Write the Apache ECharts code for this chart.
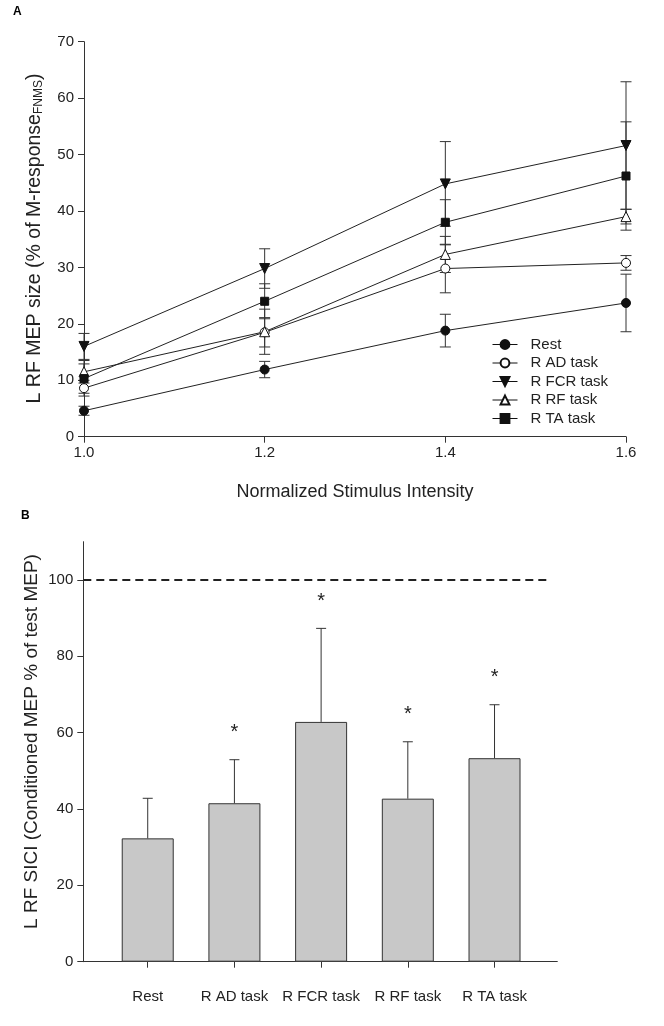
<!DOCTYPE html>
<html><head><meta charset="utf-8">
<script src="https://cdn.jsdelivr.net/npm/echarts@6/dist/echarts.min.js"></script>
<style>html,body{margin:0;padding:0;background:#fff}#c{width:664px;height:1026px}</style>
</head><body><div id="c"></div>
<script>
// ---------- Panel A data ----------
const intensity = [1.0, 1.2, 1.4, 1.6];
const restMean = [4.6, 11.9, 18.8, 23.7];
const restErr  = [0.8, 1.45, 2.9, 5.1];
const adMean   = [8.6, 18.5, 29.8, 30.8];
const adErr    = [1.4, 2.6, 4.3, 1.3];
const fcrMean  = [16.0, 29.8, 44.8, 51.6];
const fcrErr   = [2.3, 3.5, 7.5, 11.3];
const rfMean   = [11.5, 18.6, 32.3, 39.0];
const rfErr    = [2.0, 4.0, 3.2, 1.3];
const taMean   = [10.3, 24.0, 38.0, 46.2];
const taErr    = [2.6, 3.1, 4.0, 9.6];
const seriesNames = ['Rest', 'R AD task', 'R FCR task', 'R RF task', 'R TA task'];

// ---------- Panel B data ----------
const siciCats = ['Rest', 'R AD task', 'R FCR task', 'R RF task', 'R TA task'];
const siciMean = [32.3, 41.5, 62.8, 42.7, 53.3];
const siciErr  = [10.5, 11.4, 24.5, 14.9, 14.0];
const siciSig  = [false, true, true, true, true];
const siciYTicks = [0, 20, 40, 60, 80, 100];
const refLevel = 100;

const FONT = 'Liberation Sans, Arial, sans-serif';
const INK = '#222';
const AX = '#333';

const groups = [
  {mean: restMean, err: restErr, symbol: 'circle', size: 9, fill: '#111'},
  {mean: adMean, err: adErr, symbol: 'circle', size: 9, fill: '#fff'},
  {mean: fcrMean, err: fcrErr, symbol: 'path://M0,0L10,0L5,9Z', size: 10, fill: '#111'},
  {mean: rfMean, err: rfErr, symbol: 'triangle', size: 10, fill: '#fff'},
  {mean: taMean, err: taErr, symbol: 'rect', size: 8, fill: '#111'}
];

function errRenderA(params, api) {
  const x = api.value(0), y = api.value(1), e = api.value(2);
  const p = api.coord([x, y + e]), q = api.coord([x, y - e]);
  const w = 5.5;
  const st = {stroke: AX, lineWidth: 1};
  return {type: 'group', children: [
    {type: 'line', shape: {x1: p[0], y1: p[1], x2: q[0], y2: q[1]}, style: st},
    {type: 'line', shape: {x1: p[0] - w, y1: p[1], x2: p[0] + w, y2: p[1]}, style: st},
    {type: 'line', shape: {x1: q[0] - w, y1: q[1], x2: q[0] + w, y2: q[1]}, style: st}
  ]};
}

function errRenderB(params, api) {
  const x = api.value(0), y = api.value(1), e = api.value(2), s = api.value(3);
  const p = api.coord([x, y]), q = api.coord([x, y + e]);
  const w = 5;
  const st = {stroke: AX, lineWidth: 1};
  const ch = [
    {type: 'line', shape: {x1: p[0], y1: p[1], x2: q[0], y2: q[1]}, style: st},
    {type: 'line', shape: {x1: q[0] - w, y1: q[1], x2: q[0] + w, y2: q[1]}, style: st}
  ];
  if (s) {
    ch.push({type: 'text', x: q[0], y: q[1] - 27,
      style: {text: '*', fontSize: 20, fontFamily: FONT, fill: INK,
        align: 'center', verticalAlign: 'middle', textAlign: 'center', textVerticalAlign: 'middle'}});
  }
  return {type: 'group', children: ch};
}

const series = [];
groups.forEach((g, k) => {
  series.push({
    type: 'custom', xAxisIndex: 0, yAxisIndex: 0, z: 1, silent: true,
    renderItem: errRenderA, encode: {x: 0, y: 1},
    data: intensity.map((v, i) => [v, g.mean[i], g.err[i]])
  });
});
groups.forEach((g, k) => {
  series.push({
    name: seriesNames[k], type: 'line', xAxisIndex: 0, yAxisIndex: 0, z: 3,
    symbol: g.symbol, symbolSize: g.size, showAllSymbol: true,
    lineStyle: {color: INK, width: 1},
    itemStyle: {color: g.fill, borderColor: '#111', borderWidth: 1, opacity: 1},
    data: intensity.map((v, i) => [v, g.mean[i]])
  });
});
series.push({
  type: 'bar', xAxisIndex: 1, yAxisIndex: 1, barWidth: 52, z: 2,
  itemStyle: {color: '#c8c8c8', borderColor: AX, borderWidth: 1},
  data: siciCats.map((c, i) => [i, siciMean[i]]),
  markLine: {
    silent: true, symbol: 'none', label: {show: false},
    lineStyle: {color: INK, width: 2, type: [8, 5]},
    data: [[{coord: [-0.743, refLevel]}, {coord: [4.6, refLevel]}]]
  }
});
series.push({
  type: 'custom', xAxisIndex: 1, yAxisIndex: 1, z: 3, silent: true,
  renderItem: errRenderB, encode: {x: 0, y: 1},
  data: siciCats.map((c, i) => [i, siciMean[i], siciErr[i], siciSig[i] ? 1 : 0])
});

const axisCommon = {
  axisLine: {show: true, onZero: false, lineStyle: {color: AX, width: 1}},
  axisTick: {show: true, length: 6, lineStyle: {color: AX}},
  splitLine: {show: false}
};

const option = {
  backgroundColor: '#fff',
  animation: false,
  textStyle: {fontFamily: FONT},
  grid: [
    {left: 84, top: 41.7, width: 542, height: 395},
    {left: 83.3, top: 541.7, width: 474, height: 420}
  ],
  xAxis: [
    Object.assign({}, axisCommon, {gridIndex: 0, type: 'value', min: 1.0, max: 1.6, interval: 0.2,
      axisLabel: {fontSize: 15, color: INK, margin: 9, formatter: v => v.toFixed(1)}}),
    Object.assign({}, axisCommon, {gridIndex: 1, type: 'value', min: -0.743, max: 4.724,
      axisTick: {show: true, length: 6, lineStyle: {color: AX}, customValues: siciCats.map((c, i) => i)},
      axisLabel: {fontSize: 15, color: INK, margin: 28, customValues: siciCats.map((c, i) => i),
        formatter: v => siciCats[Math.round(v)]}})
  ],
  yAxis: [
    Object.assign({}, axisCommon, {gridIndex: 0, type: 'value', min: 0, max: 70, interval: 10,
      axisLabel: {fontSize: 15, color: INK, margin: 10}}),
    Object.assign({}, axisCommon, {gridIndex: 1, type: 'value', min: 0, max: 110,
      axisTick: {show: true, length: 6, lineStyle: {color: AX}, customValues: siciYTicks},
      axisLabel: {fontSize: 15, color: INK, margin: 10, customValues: siciYTicks}})
  ],
  legend: {
    orient: 'vertical', left: 487, top: 332, itemWidth: 25, itemHeight: 11, itemGap: 3.5,
    selectedMode: false, data: seriesNames,
    lineStyle: {width: 1, color: '#111'},
    textStyle: {fontSize: 15, color: INK, fontFamily: FONT, lineHeight: 14, padding: [0, 0, 0, 8]}
  },
  graphic: [
    {type: 'text', x: 13, y: 6, style: {text: 'A', font: 'bold 12px ' + FONT, fill: '#000'}},
    {type: 'text', x: 21, y: 510, style: {text: 'B', font: 'bold 12px ' + FONT, fill: '#000'}},
    {type: 'text', x: 355, y: 492, style: {text: 'Normalized Stimulus Intensity', fontSize: 18, fontFamily: FONT, fill: INK,
      align: 'center', verticalAlign: 'middle', textAlign: 'center', textVerticalAlign: 'middle'}},
    {type: 'text', x: 35, y: 238.5, rotation: Math.PI / 2, style: {
      text: '{m|L RF MEP size (% of M-response}{s|FNMS}{m|)}',
      align: 'center', verticalAlign: 'middle', textAlign: 'center', textVerticalAlign: 'middle',
      fill: INK, fontFamily: FONT, fontSize: 19.5,
      rich: {m: {fontSize: 19.5, fontFamily: FONT, fill: INK, color: INK},
             s: {fontSize: 12, fontFamily: FONT, fill: INK, color: INK, verticalAlign: 'bottom'}}}},
    {type: 'text', x: 32, y: 741.5, rotation: Math.PI / 2, style: {
      text: 'L RF SICI (Conditioned MEP % of test MEP)', fontSize: 19, fontFamily: FONT, fill: INK,
      align: 'center', verticalAlign: 'middle', textAlign: 'center', textVerticalAlign: 'middle'}}
  ],
  series: series
};
echarts.init(document.getElementById('c')).setOption(option);
</script></body></html>
